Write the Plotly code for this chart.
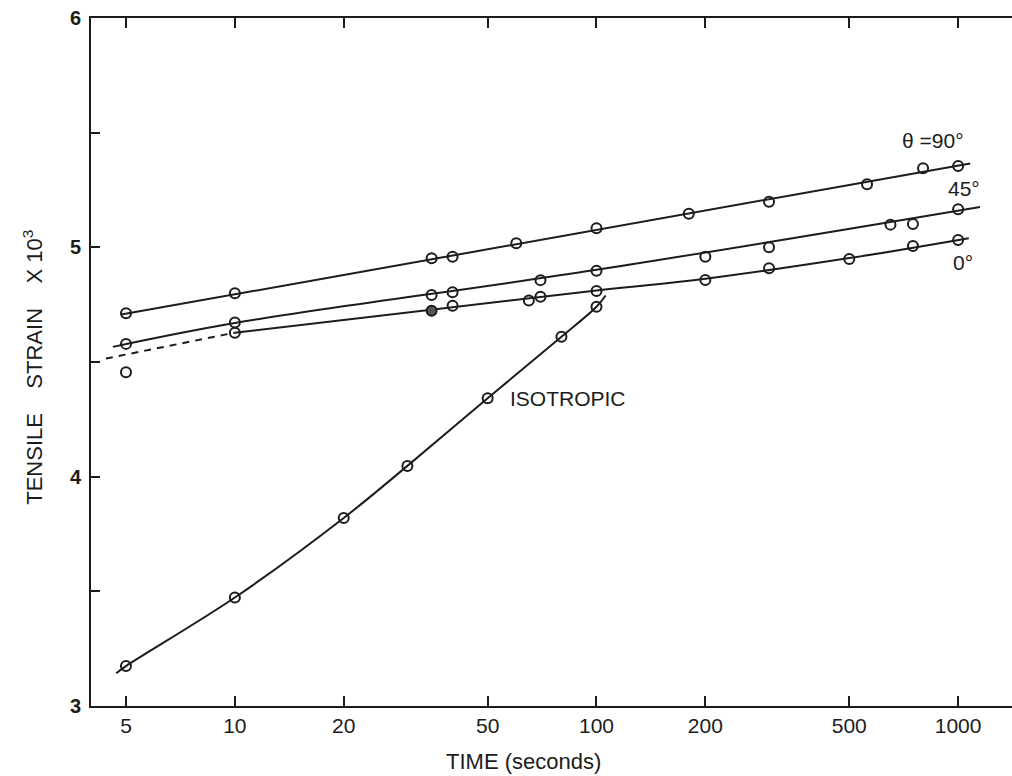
import math
import plotly.graph_objects as go

# ---------------- data ----------------
x_ticks = [5, 10, 20, 50, 100, 200, 500, 1000]
x_ticktext = ["5", "10", "20", "50", "100", "200", "500", "1000"]
y_ticks = [3, 4, 5, 6]
y_ticktext = ["3", "4", "5", "6"]

# theta = 90 deg
t90 = [5, 10, 35, 40, 60, 100, 180, 300, 560, 800, 1000]
v90 = [4.713, 4.800, 4.952, 4.959, 5.018, 5.083, 5.146, 5.199, 5.275, 5.345, 5.355]
fit90_t = [4.85, 1080]
fit90_v = [4.707, 5.366]

# 45 deg
t45 = [5, 10, 35, 40, 70, 100, 200, 300, 650, 750, 1000]
v45 = [4.579, 4.672, 4.792, 4.804, 4.857, 4.898, 4.959, 5.000, 5.099, 5.102, 5.166]
fit45_t = [4.6, 10, 100, 1150]
fit45_v = [4.566, 4.670, 4.902, 5.176]

# 0 deg
t0 = [5, 10, 40, 65, 70, 100, 200, 300, 500, 750, 1000]
v0 = [4.455, 4.628, 4.745, 4.768, 4.785, 4.810, 4.858, 4.909, 4.949, 5.006, 5.032]
t0_filled = [35]
v0_filled = [4.723]
fit0_t = [10, 100, 200, 500, 1070]
fit0_v = [4.628, 4.812, 4.863, 4.953, 5.040]
dash0_t = [4.4, 10]
dash0_v = [4.515, 4.628]

# isotropic
tiso = [5, 10, 20, 30, 50, 80, 100]
viso = [3.174, 3.473, 3.820, 4.047, 4.342, 4.610, 4.741]
curve_iso_t = [4.7, 5, 10, 20, 30, 50, 80, 100, 106]
curve_iso_v = [3.143, 3.174, 3.473, 3.820, 4.047, 4.342, 4.610, 4.741, 4.790]

# ---------------- figure ----------------
INK = "#1c1c1c"
FONT = "Liberation Sans, Arial, sans-serif"
LW = 2

fig = go.Figure()

def line(xs, ys, dash="solid", shape="linear"):
    fig.add_trace(go.Scatter(x=xs, y=ys, mode="lines",
                             line=dict(color=INK, width=LW, dash=dash, shape=shape),
                             hoverinfo="skip", showlegend=False))

def pts(xs, ys, symbol="circle-open", fill=INK):
    fig.add_trace(go.Scatter(x=xs, y=ys, mode="markers",
                             marker=dict(symbol=symbol, size=10, color=fill,
                                         line=dict(color=INK, width=2)),
                             showlegend=False))

line(fit90_t, fit90_v)
line(fit45_t, fit45_v, shape="spline")
line(fit0_t, fit0_v, shape="spline")
line(dash0_t, dash0_v, dash="7px,6px")
line(curve_iso_t, curve_iso_v, shape="spline")

pts(t90, v90)
pts(t45, v45)
pts(t0, v0)
pts(t0_filled, v0_filled, symbol="circle", fill="#555555")
pts(tiso, viso)

lab_font = dict(family=FONT, size=21, color=INK)
def label(text, t, v, anchor="left"):
    fig.add_annotation(x=math.log10(t), y=v, xref="x", yref="y", text=text,
                       showarrow=False, xanchor=anchor, yanchor="middle", font=lab_font)

label("θ =90°", 690, 5.468)
label("45°", 925, 5.255)
label("0°", 958, 4.932)
label("ISOTROPIC", 57, 4.343)

fig.add_annotation(text="TENSILE\u00a0\u00a0\u00a0 STRAIN\u00a0\u00a0\u00a0 X 10<sup>3</sup>",
                   xref="paper", yref="paper", x=-0.063, y=0.493,
                   textangle=-90, showarrow=False, xanchor="center", yanchor="middle",
                   font=dict(family=FONT, size=22, color=INK))
fig.add_annotation(text="TIME (seconds)", xref="paper", yref="paper",
                   x=0.470, y=-0.080, showarrow=False, xanchor="center", yanchor="middle",
                   font=dict(family=FONT, size=22, color=INK))

fig.update_xaxes(type="log", range=[0.6022, 3.149],
                 showline=True, linecolor=INK, linewidth=LW, mirror="ticks",
                 ticks="inside", ticklen=10, tickwidth=2, tickcolor=INK,
                 tickvals=x_ticks, ticktext=x_ticktext,
                 tickfont=dict(family=FONT, size=21, color=INK),
                 showgrid=False, zeroline=False)
fig.update_yaxes(range=[3, 6],
                 showline=True, linecolor=INK, linewidth=LW,
                 ticks="inside", ticklen=9, tickwidth=2, tickcolor=INK,
                 tickvals=y_ticks, ticktext=y_ticktext,
                 minor=dict(ticks="inside", ticklen=9, tickwidth=2, tickcolor=INK,
                            dtick=0.5, showgrid=False),
                 tickfont=dict(family=FONT, size=20, color=INK, weight="bold"),
                 ticklabelstandoff=4,
                 showgrid=False, zeroline=False)

fig.update_layout(width=1012, height=776,
                  margin=dict(l=91, r=0, t=18, b=70),
                  paper_bgcolor="white", plot_bgcolor="white",
                  showlegend=False)

fig.write_html("out.html")
